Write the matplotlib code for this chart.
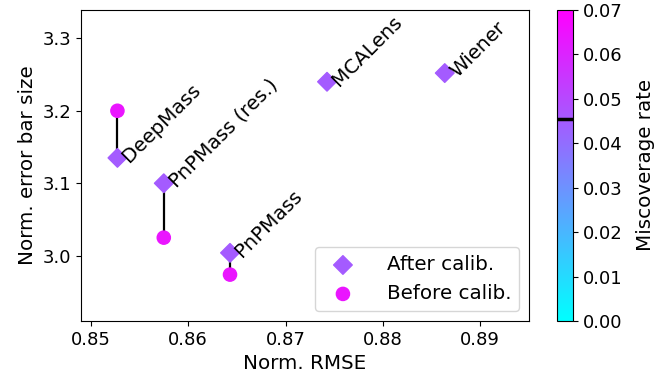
import numpy as np
import matplotlib
matplotlib.use("Agg")
import matplotlib.pyplot as plt

methods = ["DeepMass", "PnPMass (res.)", "PnPMass", "MCALens", "Wiener"]
rmse = [0.85274, 0.85750, 0.86430, 0.87426, 0.88635]
size_after = [3.135, 3.100, 3.004, 3.240, 3.252]
miss_after = [0.045, 0.045, 0.045, 0.045, 0.045]
# only the learned methods have a "before calibration" point
before_idx = [0, 1, 2]
size_before = [3.200, 3.025, 2.974]
miss_before = [0.064, 0.064, 0.064]
target = 0.0455

plt.rcParams["font.size"] = 14.3
plt.rcParams["xtick.labelsize"] = 13
plt.rcParams["ytick.labelsize"] = 13
fig = plt.figure(figsize=(6.58, 3.9), dpi=100)
ax = fig.add_axes([81 / 658, 69 / 390, 448 / 658, 311 / 390])
cax = fig.add_axes([557 / 658, 69 / 390, 16 / 658, 311 / 390])
cmap = plt.get_cmap("cool")
norm = plt.Normalize(0.0, 0.07)

xb = [rmse[i] for i in before_idx]
for x, yb, i in zip(xb, size_before, before_idx):
    ax.plot([x, x], [yb, size_after[i]], color="k", lw=1.6, zorder=1)

sc = ax.scatter(rmse, size_after, c=miss_after, cmap=cmap, norm=norm,
                marker="D", s=90, zorder=3, label="After calib.")
ax.scatter(xb, size_before, c=miss_before, cmap=cmap, norm=norm,
           marker="o", s=90, zorder=3, label="Before calib.")

for name, x, y in zip(methods, rmse, size_after):
    ax.annotate(name, (x, y), xytext=(6, -1), textcoords="offset points",
                rotation=45, rotation_mode="anchor", ha="left", va="center")

ax.set_xlim(0.849, 0.895)
ax.set_ylim(2.91, 3.339)
ax.set_xticks([0.85, 0.86, 0.87, 0.88, 0.89])
ax.set_yticks([3.0, 3.1, 3.2, 3.3])
ax.set_xlabel("Norm. RMSE")
ax.set_ylabel("Norm. error bar size")
ax.legend(loc="lower right", handletextpad=1.2)

cb = fig.colorbar(sc, cax=cax)
cb.set_label("Miscoverage rate", labelpad=10)
cb.set_ticks(np.arange(0, 0.0701, 0.01))
cb.ax.tick_params(labelsize=13)
cb.ax.axhline(target, color="k", lw=2.5)

fig.savefig("out.png")
